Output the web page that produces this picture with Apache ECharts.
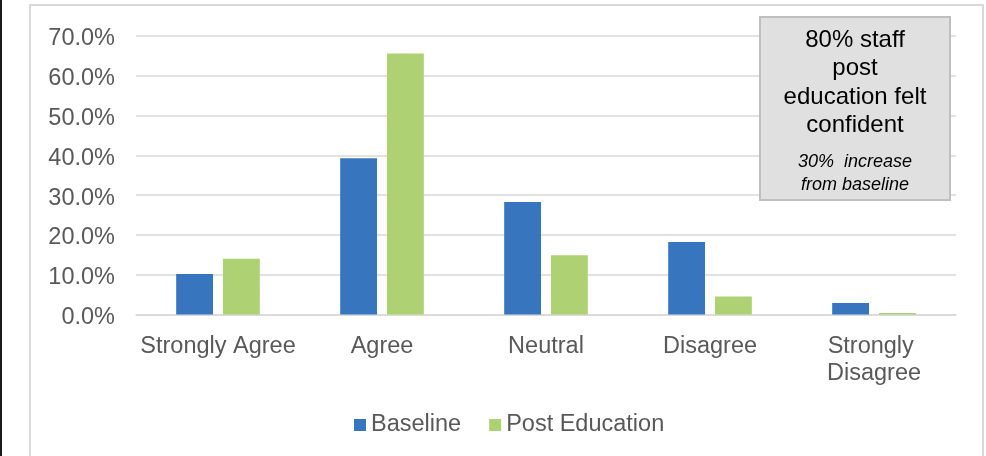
<!DOCTYPE html>
<html>
<head>
<meta charset="utf-8">
<script src="https://cdn.jsdelivr.net/npm/echarts@6/dist/echarts.min.js"></script>
<style>
  html, body { margin: 0; padding: 0; background: #fff; }
  #chart { width: 986px; height: 456px; }
</style>
</head>
<body>
<div id="chart"></div>
<script>
// Survey responses, share of staff per answer
const categories = ['Strongly Agree', 'Agree', 'Neutral', 'Disagree', 'Strongly Disagree'];
const baseline = [10.2, 39.3, 28.3, 18.2, 2.9];
const postEducation = [14.0, 65.6, 14.9, 4.5, 0.4];
const seriesNames = ['Baseline', 'Post Education'];
const calloutMain = ['80% staff', 'post', 'education felt', 'confident'];
const calloutNote = ['30%  increase', 'from baseline'];

const FONT = '"Liberation Sans", Arial, sans-serif';
const GREY_TEXT = '#595959';

const chart = echarts.init(document.getElementById('chart'), null, { renderer: 'canvas' });

chart.setOption({
  animation: false,
  backgroundColor: '#ffffff',
  textStyle: { fontFamily: FONT },
  grid: { left: 136, right: 30, top: 36, bottom: 141.5, containLabel: false },
  legend: {
    data: seriesNames,
    left: 354,
    top: 413,
    padding: 0,
    icon: 'rect',
    itemWidth: 12,
    itemHeight: 12,
    itemGap: 28,
    textStyle: { color: GREY_TEXT, fontSize: 23.5, fontFamily: FONT }
  },
  xAxis: {
    type: 'category',
    data: categories,
    axisLine: { show: true, lineStyle: { color: '#d9d9d9', width: 1.5 } },
    axisTick: { show: false },
    axisLabel: {
      color: GREY_TEXT,
      fontSize: 23.5,
      fontFamily: FONT,
      margin: 19,
      lineHeight: 27,
      interval: 0,
      width: 164,
      overflow: 'break',
      align: 'center'
    }
  },
  yAxis: {
    type: 'value',
    min: 0,
    max: 70,
    interval: 10,
    axisLine: { show: false },
    axisTick: { show: false },
    splitLine: { lineStyle: { color: '#d9d9d9', width: 1.5 } },
    axisLabel: {
      color: GREY_TEXT,
      fontSize: 23.5,
      fontFamily: FONT,
      margin: 21,
      formatter: v => '{t|' + v.toFixed(1) + '%}',
      rich: {
        t: {
          color: GREY_TEXT,
          fontSize: 23.5,
          fontFamily: FONT,
          lineHeight: 24,
          padding: [6, 0, 0, 0]
        }
      }
    }
  },
  series: [
    {
      name: seriesNames[0],
      type: 'bar',
      data: baseline,
      barGap: '27%',
      barCategoryGap: '49%',
      itemStyle: { color: '#3875bf' }
    },
    {
      name: seriesNames[1],
      type: 'bar',
      data: postEducation,
      barGap: '27%',
      barCategoryGap: '49%',
      itemStyle: { color: '#aed273' }
    }
  ],
  graphic: [
    // outer chart frame
    {
      type: 'rect',
      shape: { x: 30, y: 5, width: 953, height: 470 },
      style: { fill: 'none', stroke: '#d9d9d9', lineWidth: 2 },
      silent: true
    },
    // dark page edge on the left
    {
      type: 'rect',
      shape: { x: 0, y: 0, width: 2, height: 456 },
      style: { fill: '#1a1a1a' },
      silent: true
    },
    // callout box, kept on its own layer above the gridlines
    {
      type: 'rect',
      zlevel: 1,
      shape: { x: 760, y: 17, width: 190, height: 183 },
      style: { fill: '#e0e0e0', stroke: '#bfbfbf', lineWidth: 2 }
    },
    {
      type: 'text',
      zlevel: 1,
      x: 855,
      y: 26,
      style: {
        text: calloutMain.join('\n'),
        fill: '#000000',
        font: '24px ' + FONT,
        lineHeight: 28.5,
        align: 'center',
        verticalAlign: 'top'
      }
    },
    {
      type: 'text',
      zlevel: 1,
      x: 855,
      y: 150,
      style: {
        text: calloutNote.join('\n'),
        fill: '#000000',
        font: 'italic 18px ' + FONT,
        lineHeight: 23,
        align: 'center',
        verticalAlign: 'top'
      }
    }
  ]
});
</script>
</body>
</html>
